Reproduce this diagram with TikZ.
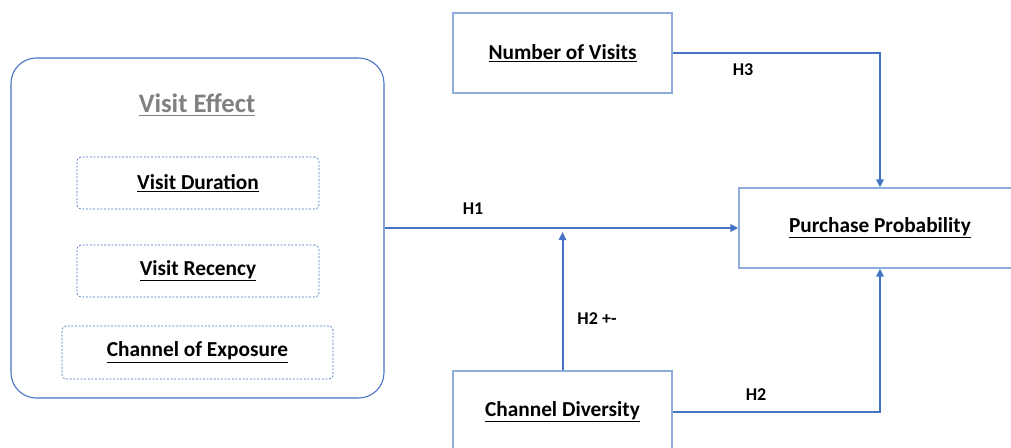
\documentclass[tikz,border=0pt]{standalone}
\usepackage{fontspec}
\setmainfont{Carlito}
\usetikzlibrary{arrows.meta}
\definecolor{lineblue}{RGB}{68,114,196}
\definecolor{boxblue}{RGB}{143,170,220}
\definecolor{titlegray}{RGB}{128,128,128}
\tikzset{
	varbox/.style={draw=boxblue, line width=0.9pt, fill=white, inner sep=0pt,
		font=\fontsize{16}{18}\selectfont\bfseries},
	subbox/.style={draw=lineblue, dashed, dash pattern=on 1.5pt off 1.2pt, line width=0.5pt,
		rounded corners=3pt, inner sep=0pt, font=\fontsize{16}{18}\selectfont\bfseries},
	hlabel/.style={inner sep=0pt, font=\fontsize{13.5}{15}\selectfont\bfseries},
	link/.style={draw=lineblue, line width=1.5pt, -{Triangle[length=6pt,width=5.5pt]}}
}
\newcommand{\ulabel}[1]{\underline{#1}}
\begin{document}
\begin{tikzpicture}[x=0.75pt,y=-0.75pt]
	\useasboundingbox (0,0) rectangle (1011,447);
	% construct on the left
	\node (VE) at (197.5, 228) [draw=lineblue, line width=0.8pt, rounded corners=19pt,
		minimum width=279.75pt, minimum height=255pt] {};
	\node (VEtitle) at (197, 105) [inner sep=0pt, text=titlegray,
		font=\fontsize{20}{24}\selectfont\bfseries] {\ulabel{Visit Effect}};
	\node (VD) at (198, 183)   [subbox, minimum width=181.5pt,  minimum height=39pt]    {\ulabel{Visit Duration}};
	\node (VR) at (198, 271)   [subbox, minimum width=181.5pt,  minimum height=39pt]    {\ulabel{Visit Recency}};
	\node (CE) at (197.5, 352.5) [subbox, minimum width=203.25pt, minimum height=39.75pt] {\ulabel{Channel of Exposure}};
	% other variables
	\node (NV) at (562.5, 53)  [varbox, minimum width=164.25pt, minimum height=60pt]   {\ulabel{Number of Visits}};
	\node (PP) at (880, 228)   [varbox, minimum width=211.5pt,  minimum height=60pt]   {\ulabel{Purchase Probability}};
	\node (CD) at (562.5, 412) [varbox, minimum width=164.25pt, minimum height=61.5pt] {\ulabel{Channel Diversity}};
	\coordinate (mod) at (562.5, 232);
	% hypotheses
	\draw[link] (VE.east) -- (PP.west);
	\draw[link] (NV.east) -| (PP.north);
	\draw[link] (CD.east) -| (PP.south);
	\draw[link] (CD.north) -- (mod);
	\node (H1)  at (473, 209) [hlabel] {H1};
	\node (H3)  at (743, 70)  [hlabel] {H3};
	\node (H2m) at (597, 319) [hlabel] {H2 +-};
	\node (H2)  at (756, 395) [hlabel] {H2};
\end{tikzpicture}
\end{document}
